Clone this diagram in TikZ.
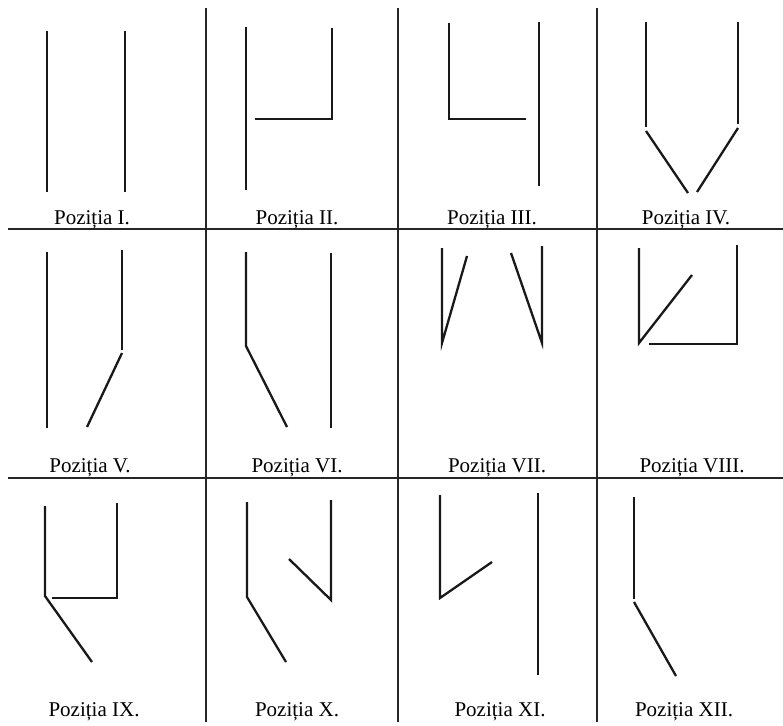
\documentclass[tikz,border=0pt]{standalone}
\usepackage{fontspec}
\setmainfont{Liberation Serif}
\begin{document}
\begin{tikzpicture}[x=1pt,y=-1pt,
  grid/.style={line width=1.3pt,black!85},
  bar/.style={line width=2.3pt,black!90,line cap=butt,line join=miter},
  lab/.style={anchor=base,inner sep=0pt,font=\fontsize{21}{25}\selectfont}]
\useasboundingbox[fill=white] (0,0) rectangle (783,725);
% grid
\draw[grid] (8,229) -- (783,229);
\draw[grid] (8,478) -- (783,478);
\draw[grid] (206,8) -- (206,722);
\draw[grid] (398,8) -- (398,722);
\draw[grid] (597,8) -- (597,722);
% I
\draw[bar] (47,31) -- (47,192);
\draw[bar] (125,31) -- (125,192);
\node[lab] (l1) at (92,224) {Poziția I.};
% II
\draw[bar] (246,27) -- (246,190);
\draw[bar] (255,119) -- (332,119) -- (332,28);
\node[lab] (l2) at (297,224) {Poziția II.};
% III
\draw[bar] (449,23) -- (449,119) -- (526,119);
\draw[bar] (539,22) -- (539,186);
\node[lab] (l3) at (492,224) {Poziția III.};
% IV
\draw[bar] (646,22) -- (646,127);
\draw[bar] (646,131) -- (688,193);
\draw[bar] (738,22) -- (738,124);
\draw[bar] (738,128) -- (697,192);
\node[lab] (l4) at (686,224) {Poziția IV.};
% V
\draw[bar] (47,252) -- (47,428);
\draw[bar] (122,250) -- (122,350);
\draw[bar] (122,353) -- (87,427);
\node[lab] (l5) at (90,472) {Poziția V.};
% VI
\draw[bar] (246,252) -- (246,346) -- (287,427);
\draw[bar] (331,253) -- (331,428);
\node[lab] (l6) at (297,472) {Poziția VI.};
% VII
\draw[bar] (442,248) -- (442,343) -- (467,256);
\draw[bar] (511,253) -- (542,343) -- (542,246);
\node[lab] (l7) at (497,472) {Poziția VII.};
% VIII
\draw[bar] (639,248) -- (639,343) -- (692,275);
\draw[bar] (649,344) -- (737,344) -- (737,245);
\node[lab] (l8) at (692,472) {Poziția VIII.};
% IX
\draw[bar] (45,506) -- (45,596) -- (92,662);
\draw[bar] (52,598) -- (117,598) -- (117,503);
\node[lab] (l9) at (94,716) {Poziția IX.};
% X
\draw[bar] (247,502) -- (247,597) -- (286,662);
\draw[bar] (289,559) -- (331,600) -- (331,500);
\node[lab] (l10) at (297,716) {Poziția X.};
% XI
\draw[bar] (440,495) -- (440,598) -- (492,562);
\draw[bar] (538,493) -- (538,675);
\node[lab] (l11) at (500,716) {Poziția XI.};
% XII
\draw[bar] (634,497) -- (634,599);
\draw[bar] (634,602) -- (676,676);
\node[lab] (l12) at (684,716) {Poziția XII.};
\end{tikzpicture}
\end{document}
